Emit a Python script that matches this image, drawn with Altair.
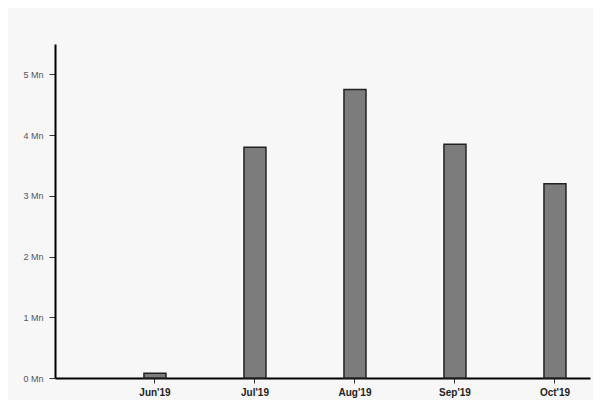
import altair as alt
import pandas as pd

months = ["Jun'19", "Jul'19", "Aug'19", "Sep'19", "Oct'19"]
values_mn = [0.08, 3.8, 4.75, 3.85, 3.2]

df = pd.DataFrame({"month": months, "value": values_mn})

chart = alt.Chart(df).mark_bar(
    size=22, color="#7c7c7c", stroke="#222222", strokeWidth=1.5
).encode(
    x=alt.X("month:N", sort=months, title=None,
            scale=alt.Scale(paddingInner=0.5, paddingOuter=0.425, align=0.882),
            axis=alt.Axis(labelAngle=0, labelFontSize=10, labelColor="#222",
                          labelFont="Liberation Sans", labelFontWeight="bold",
                          domainColor="#000", domainWidth=2, tickColor="#333",
                          tickSize=5, labelPadding=4)),
    y=alt.Y("value:Q", title=None,
            scale=alt.Scale(domain=[0, 5.5], nice=False),
            axis=alt.Axis(values=[0, 1, 2, 3, 4, 5], labelExpr="datum.value + ' Mn'",
                          labelFontSize=9, labelColor="#555", labelFont="Liberation Sans",
                          grid=False, domainColor="#000", domainWidth=2,
                          tickColor="#333", tickSize=6, labelPadding=6))
).properties(
    width=535, height=334,
    padding={"left": 47, "top": 36, "right": 3, "bottom": 22},
    autosize=alt.AutoSizeParams(type="none"),
    background="#f7f7f7"
).configure_view(stroke=None)

chart.save("out.html", embed_options={"renderer": "svg", "actions": False})
